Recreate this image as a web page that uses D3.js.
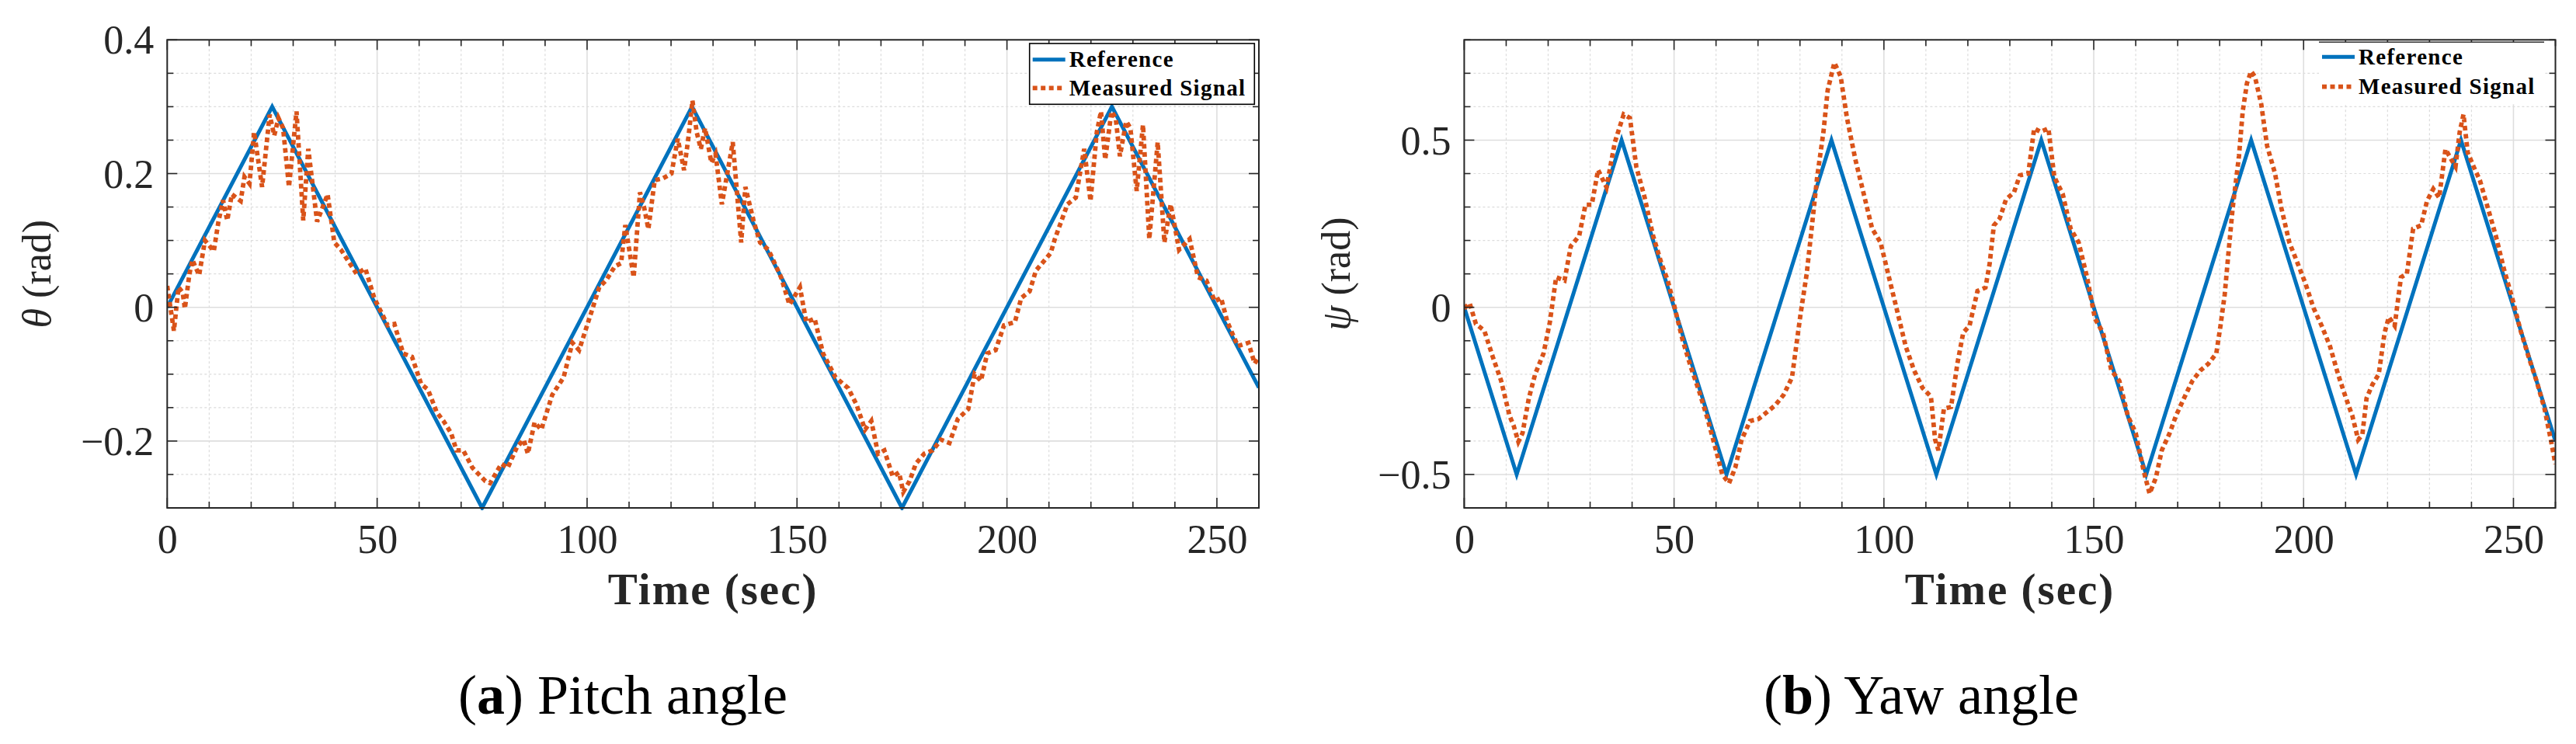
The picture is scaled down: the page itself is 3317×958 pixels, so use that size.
<!DOCTYPE html>
<html><head><meta charset="utf-8">
<script src="https://cdn.jsdelivr.net/npm/d3@7"></script>
<style>html,body{margin:0;padding:0;background:#fff;}svg{display:block;}</style>
</head><body>
<svg id="chart" width="3317" height="958"></svg>
<script>
// ---------------- DATA ----------------
const xTicks = [0, 50, 100, 150, 200, 250];
const pitchYTicks = [-0.2, 0, 0.2, 0.4];
const yawYTicks = [-0.5, 0, 0.5];
const pitchYTickLabels = ["\u22120.2", "0", "0.2", "0.4"];
const yawYTickLabels = ["\u22120.5", "0", "0.5"];
const seriesNames = ["Reference", "Measured Signal"];

// Pitch reference (triangle wave)
const pitchRefTime = [0, 25, 75, 125, 175, 225, 260];
const pitchRefVal  = [0, 0.3, -0.3, 0.3, -0.3, 0.3, -0.12];

// Pitch measured signal
const pitchMeasTime = [0,1.6,2.7,3.7,4.2,5.3,6.0,7.6,9.0,11.1,12.2,13.3,14.3,15.4,17.5,18.4,19.6,20.7,22.6,24.4,25.5,26.5,27.6,29.0,30.8,32.4,33.6,35.7,38.2,39.8,41.4,45.1,47.2,49.3,52.5,54.1,56.2,58.3,60.5,62.1,64.2,65.8,67.6,68.9,70.5,72.7,75.8,76.9,79.6,81.1,83.3,84.9,85.9,87.5,89.1,91.7,94.4,96.5,98.1,101.3,102.9,104.5,106.6,108.1,109.1,111.1,112.6,113.6,114.6,116.1,118.1,120.1,121.6,123.1,124.1,125.1,126.1,127.1,128.1,129.6,130.6,132.1,134.7,136.7,137.7,139.7,141.2,143.2,146.2,148.2,150.7,152.2,154.2,156.2,159.2,162.2,164.2,166.2,167.7,169.3,170.8,172.8,174.3,175.3,176.8,178.3,180.3,182.3,184.3,186.3,188.3,190.8,192.3,193.8,195.3,197.3,199.3,201.9,203.4,205.4,206.9,208.4,210.4,211.4,212.9,214.4,216.4,218.4,219.9,221.4,222.4,223.4,224.9,225.9,226.9,228.4,229.4,230.9,232.4,233.9,235.9,237.5,239.0,241.0,243.5,245.5,247.5,249.5,251.0,252.5,255.0,257.5,259.0,260.0];
const pitchMeasVal = [0.032,-0.035,0.03,0.022,-0.002,0.05,0.071,0.048,0.10,0.084,0.128,0.16,0.13,0.169,0.159,0.195,0.185,0.262,0.18,0.288,0.257,0.283,0.268,0.18,0.293,0.13,0.237,0.128,0.169,0.097,0.086,0.05,0.058,0.014,-0.027,-0.025,-0.069,-0.074,-0.115,-0.123,-0.157,-0.17,-0.188,-0.214,-0.214,-0.24,-0.26,-0.263,-0.234,-0.24,-0.209,-0.198,-0.219,-0.172,-0.183,-0.131,-0.105,-0.053,-0.064,-0.002,0.03,0.04,0.061,0.066,0.123,0.045,0.172,0.149,0.117,0.19,0.193,0.2,0.252,0.205,0.252,0.309,0.262,0.237,0.268,0.216,0.229,0.154,0.247,0.097,0.18,0.128,0.097,0.086,0.045,0.004,0.03,-0.022,-0.017,-0.069,-0.105,-0.121,-0.146,-0.183,-0.17,-0.219,-0.214,-0.253,-0.247,-0.276,-0.26,-0.234,-0.219,-0.214,-0.198,-0.203,-0.167,-0.152,-0.1,-0.11,-0.069,-0.064,-0.027,-0.022,0.014,0.024,0.055,0.066,0.081,0.102,0.128,0.154,0.164,0.237,0.159,0.262,0.293,0.221,0.293,0.283,0.226,0.278,0.268,0.174,0.273,0.102,0.247,0.097,0.154,0.086,0.102,0.045,0.04,0.009,0.014,-0.022,-0.058,-0.053,-0.084,-0.074];

// Yaw reference (triangle wave)
const yawRefTime = [0, 12.5, 37.5, 62.5, 87.5, 112.5, 137.5, 162.5, 187.5, 212.5, 237.5, 260];
const yawRefVal  = [0, -0.5, 0.5, -0.5, 0.5, -0.5, 0.5, -0.5, 0.5, -0.5, 0.5, -0.4];

// Yaw measured signal
const yawMeasTime = [0,1.3,2.8,4.8,6.8,8.8,10.8,11.8,12.9,13.9,15.4,16.9,18.9,20.4,21.9,23.9,25.4,27.4,28.9,30.4,31.9,33.9,35.9,38.0,39.5,41.0,43.0,45.0,47.0,48.5,50.0,52.0,54.0,56.0,58.0,60.0,61.5,63.1,64.6,66.1,68.1,70.1,72.1,74.1,76.1,78.1,79.1,80.1,81.6,82.6,84.1,85.6,86.6,88.2,89.7,91.2,93.2,95.2,97.2,99.2,101.2,103.2,105.2,107.2,109.2,111.2,112.2,113.0,114.3,116.0,117.5,118.9,120.4,122.3,124.2,125.2,126.2,127.6,129.1,131.0,132.4,134.4,135.8,137.3,139.2,140.6,142.6,144.5,146.4,148.4,150.3,152.2,154.2,156.1,158.1,160.0,161.9,163.3,164.8,166.2,168.1,169.6,171.5,173.5,175.4,177.3,179.2,180.2,181.2,182.1,183.1,184.6,185.5,186.5,187.5,188.4,189.9,191.3,193.2,194.7,196.6,198.6,200.5,202.4,204.3,206.3,208.2,210.1,211.6,213.0,214.0,215.0,216.4,217.9,219.3,220.3,221.7,223.2,224.6,226.1,228.0,229.4,230.9,232.3,233.8,235.2,236.2,237.2,238.1,239.1,240.5,242.0,243.9,245.8,247.8,249.7,251.6,253.6,255.5,257.4,258.9,260.0];
const yawMeasVal = [-0.003,0.012,-0.05,-0.07,-0.148,-0.22,-0.324,-0.355,-0.402,-0.376,-0.272,-0.2,-0.138,-0.045,0.09,0.08,0.183,0.214,0.307,0.307,0.411,0.359,0.494,0.577,0.566,0.421,0.328,0.214,0.131,0.08,0.007,-0.096,-0.179,-0.252,-0.334,-0.428,-0.5,-0.526,-0.479,-0.396,-0.34,-0.334,-0.314,-0.293,-0.262,-0.21,-0.117,-0.024,0.1,0.214,0.39,0.525,0.649,0.732,0.69,0.566,0.442,0.339,0.235,0.194,0.09,-0.013,-0.117,-0.189,-0.241,-0.267,-0.396,-0.428,-0.303,-0.298,-0.169,-0.076,-0.055,0.049,0.059,0.131,0.245,0.266,0.323,0.344,0.395,0.4,0.535,0.525,0.535,0.39,0.339,0.235,0.194,0.09,-0.034,-0.076,-0.189,-0.22,-0.324,-0.376,-0.49,-0.557,-0.51,-0.428,-0.376,-0.324,-0.272,-0.22,-0.189,-0.169,-0.138,-0.055,0.038,0.163,0.297,0.452,0.587,0.67,0.706,0.69,0.608,0.483,0.4,0.297,0.194,0.131,0.069,-0.003,-0.055,-0.117,-0.2,-0.272,-0.324,-0.396,-0.381,-0.272,-0.231,-0.2,-0.076,-0.029,-0.055,0.09,0.1,0.235,0.245,0.318,0.354,0.328,0.473,0.442,0.421,0.525,0.577,0.463,0.421,0.38,0.297,0.214,0.111,0.028,-0.065,-0.148,-0.22,-0.303,-0.396,-0.469];

// ---------------- DRAW ----------------
const svg = d3.select("#chart");
const BLUE = "#0072BD", ORANGE = "#D95319", AX = "#262626";
const SERIF = "'Liberation Serif','DejaVu Serif',serif";
const MEAS_DASH = "6,4.5", MEAS_W = 5.8, REF_W = 5;

function zip(t, v) { return t.map((x, i) => ({t: x, v: v[i]})); }

function panel(o) {
  const g = svg.append("g");
  const x = d3.scaleLinear().domain([0, 260]).range([o.left, o.right]);
  const y = d3.scaleLinear().domain(o.yDomain).range([o.bottom, o.top]);
  const xMinor = d3.range(0, 261, 10);
  const yMinor = d3.range(o.yDomain[0], o.yDomain[1] + 1e-9, o.yMinorStep).map(d => +d.toFixed(4));
  const isMajorY = d => o.yTicks.some(t => Math.abs(t - d) < 1e-6);
  const isMajorX = d => xTicks.includes(d);

  // grid
  g.append("g").selectAll("line").data(xMinor.filter(d => !isMajorX(d) && d > 0 && d < 260)).join("line")
    .attr("x1", d => x(d)).attr("x2", d => x(d)).attr("y1", o.top).attr("y2", o.bottom)
    .attr("stroke", "#dcdcdc").attr("stroke-width", 1.2).attr("stroke-dasharray", "3,3");
  g.append("g").selectAll("line").data(yMinor.filter(d => !isMajorY(d))).join("line")
    .attr("x1", o.left).attr("x2", o.right).attr("y1", d => y(d)).attr("y2", d => y(d))
    .attr("stroke", "#dcdcdc").attr("stroke-width", 1.2).attr("stroke-dasharray", "3,3");
  g.append("g").selectAll("line").data(xTicks.filter(d => d > 0)).join("line")
    .attr("x1", d => x(d)).attr("x2", d => x(d)).attr("y1", o.top).attr("y2", o.bottom)
    .attr("stroke", "#dedede").attr("stroke-width", 1.6);
  g.append("g").selectAll("line").data(o.yTicks).join("line")
    .attr("x1", o.left).attr("x2", o.right).attr("y1", d => y(d)).attr("y2", d => y(d))
    .attr("stroke", "#dedede").attr("stroke-width", 1.6);

  // clip
  const cid = "clip" + o.id;
  svg.append("defs").append("clipPath").attr("id", cid).append("rect")
    .attr("x", o.left).attr("y", o.top - 3).attr("width", o.right - o.left).attr("height", o.bottom - o.top + 6);

  const line = d3.line().x(d => x(d.t)).y(d => y(d.v));
  const lines = g.append("g").attr("clip-path", `url(#${cid})`);
  lines.append("path").datum(zip(o.refT, o.refV)).attr("d", line)
    .attr("fill", "none").attr("stroke", BLUE).attr("stroke-width", REF_W).attr("stroke-linejoin", "miter");
  lines.append("path").datum(zip(o.measT, o.measV)).attr("d", line)
    .attr("fill", "none").attr("stroke", ORANGE).attr("stroke-width", MEAS_W).attr("stroke-dasharray", MEAS_DASH);

  // axes
  const xa = d3.axisBottom(x).tickValues(xTicks).tickSize(0).tickPadding(0).tickFormat(d3.format("d"));
  const xg = g.append("g").attr("transform", `translate(0,${o.bottom})`).call(xa);
  xg.select(".domain").remove();
  xg.selectAll("text").attr("y", 58).attr("dy", 0).attr("font-family", SERIF).attr("font-size", 52).attr("fill", AX);

  const ya = d3.axisLeft(y).tickValues(o.yTicks).tickSize(0).tickPadding(0).tickFormat((d, i) => o.yLabels[i]);
  const yg = g.append("g").attr("transform", `translate(${o.left},0)`).call(ya);
  yg.select(".domain").remove();
  yg.selectAll("text").attr("x", -17).attr("dy", "0.34em").attr("font-family", SERIF).attr("font-size", 52).attr("fill", AX);

  // tick marks (inside, all four sides)
  const tk = g.append("g").attr("stroke", AX).attr("stroke-width", 1.6);
  xMinor.forEach(d => {
    const L = isMajorX(d) ? 13 : 8;
    tk.append("line").attr("x1", x(d)).attr("x2", x(d)).attr("y1", o.bottom).attr("y2", o.bottom - L);
    tk.append("line").attr("x1", x(d)).attr("x2", x(d)).attr("y1", o.top).attr("y2", o.top + L);
  });
  yMinor.forEach(d => {
    const L = isMajorY(d) ? 13 : 8;
    tk.append("line").attr("y1", y(d)).attr("y2", y(d)).attr("x1", o.left).attr("x2", o.left + L);
    tk.append("line").attr("y1", y(d)).attr("y2", y(d)).attr("x1", o.right).attr("x2", o.right - L);
  });
  g.append("rect").attr("x", o.left).attr("y", o.top).attr("width", o.right - o.left).attr("height", o.bottom - o.top)
    .attr("fill", "none").attr("stroke", AX).attr("stroke-width", 2);

  // axis labels
  g.append("text").attr("x", (o.left + o.right) / 2).attr("y", 778).attr("text-anchor", "middle")
    .attr("font-family", SERIF).attr("font-weight", "bold").attr("font-size", 57).attr("letter-spacing", 2)
    .attr("fill", AX).text("Time (sec)");
  const yl = g.append("text").attr("transform", `translate(${o.ylabX},${(o.top + o.bottom) / 2}) rotate(-90)`)
    .attr("text-anchor", "middle").attr("font-family", SERIF).attr("font-size", 52).attr("fill", AX);
  yl.append("tspan").attr("font-style", "italic").text(o.ylabSym);
  yl.append("tspan").text(" (rad)");

  // legend
  const lg = g.append("g");
  lg.append("rect").attr("x", o.leg.x).attr("y", o.leg.y).attr("width", o.leg.w).attr("height", o.leg.h)
    .attr("fill", "#fff").attr("stroke", o.leg.box ? "#000" : "none").attr("stroke-width", 1.6);
  if (!o.leg.box) {
    lg.append("line").attr("x1", o.leg.x).attr("x2", o.leg.x + o.leg.w).attr("y1", o.leg.y).attr("y2", o.leg.y)
      .attr("stroke", "#333").attr("stroke-width", 1.6);
  }
  const rows = [{c: BLUE, dash: null, w: REF_W}, {c: ORANGE, dash: MEAS_DASH, w: MEAS_W}];
  seriesNames.forEach((name, i) => {
    const cy = o.leg.y + o.leg.rowY[i];
    lg.append("line").attr("x1", o.leg.x + 4).attr("x2", o.leg.x + 46).attr("y1", cy).attr("y2", cy)
      .attr("stroke", rows[i].c).attr("stroke-width", rows[i].w).attr("stroke-dasharray", rows[i].dash);
    lg.append("text").attr("x", o.leg.x + 51).attr("y", cy + 9.5)
      .attr("font-family", SERIF).attr("font-weight", "bold").attr("font-size", 29).attr("letter-spacing", 1.3)
      .attr("fill", "#000").text(name);
  });

  // caption
  const cap = svg.append("text").attr("x", o.capX).attr("y", 919).attr("text-anchor", "middle")
    .attr("font-family", SERIF).attr("font-size", 72).attr("fill", "#000");
  cap.append("tspan").text("(");
  cap.append("tspan").attr("font-weight", "bold").text(o.capLetter);
  cap.append("tspan").text(") " + o.capText);
}

panel({
  id: "a", left: 215.3, right: 1621, top: 51.3, bottom: 654,
  yDomain: [-0.3, 0.4], yMinorStep: 0.05, yTicks: pitchYTicks, yLabels: pitchYTickLabels,
  refT: pitchRefTime, refV: pitchRefVal, measT: pitchMeasTime, measV: pitchMeasVal,
  ylabX: 65, ylabSym: "\u03B8",
  leg: {x: 1325.7, y: 56, w: 289.6, h: 78.3, box: true, rowY: [20.7, 57.3]},
  capX: 802, capLetter: "a", capText: "Pitch angle"
});
panel({
  id: "b", left: 1885.4, right: 3290.5, top: 51.3, bottom: 654,
  yDomain: [-0.6, 0.8], yMinorStep: 0.1, yTicks: yawYTicks, yLabels: yawYTickLabels,
  refT: yawRefTime, refV: yawRefVal, measT: yawMeasTime, measV: yawMeasVal,
  ylabX: 1738, ylabSym: "\u03C8",
  leg: {x: 2986, y: 54.3, w: 290, h: 80, box: false, rowY: [19, 57.4]},
  capX: 2474, capLetter: "b", capText: "Yaw angle"
});
</script>
</body></html>
